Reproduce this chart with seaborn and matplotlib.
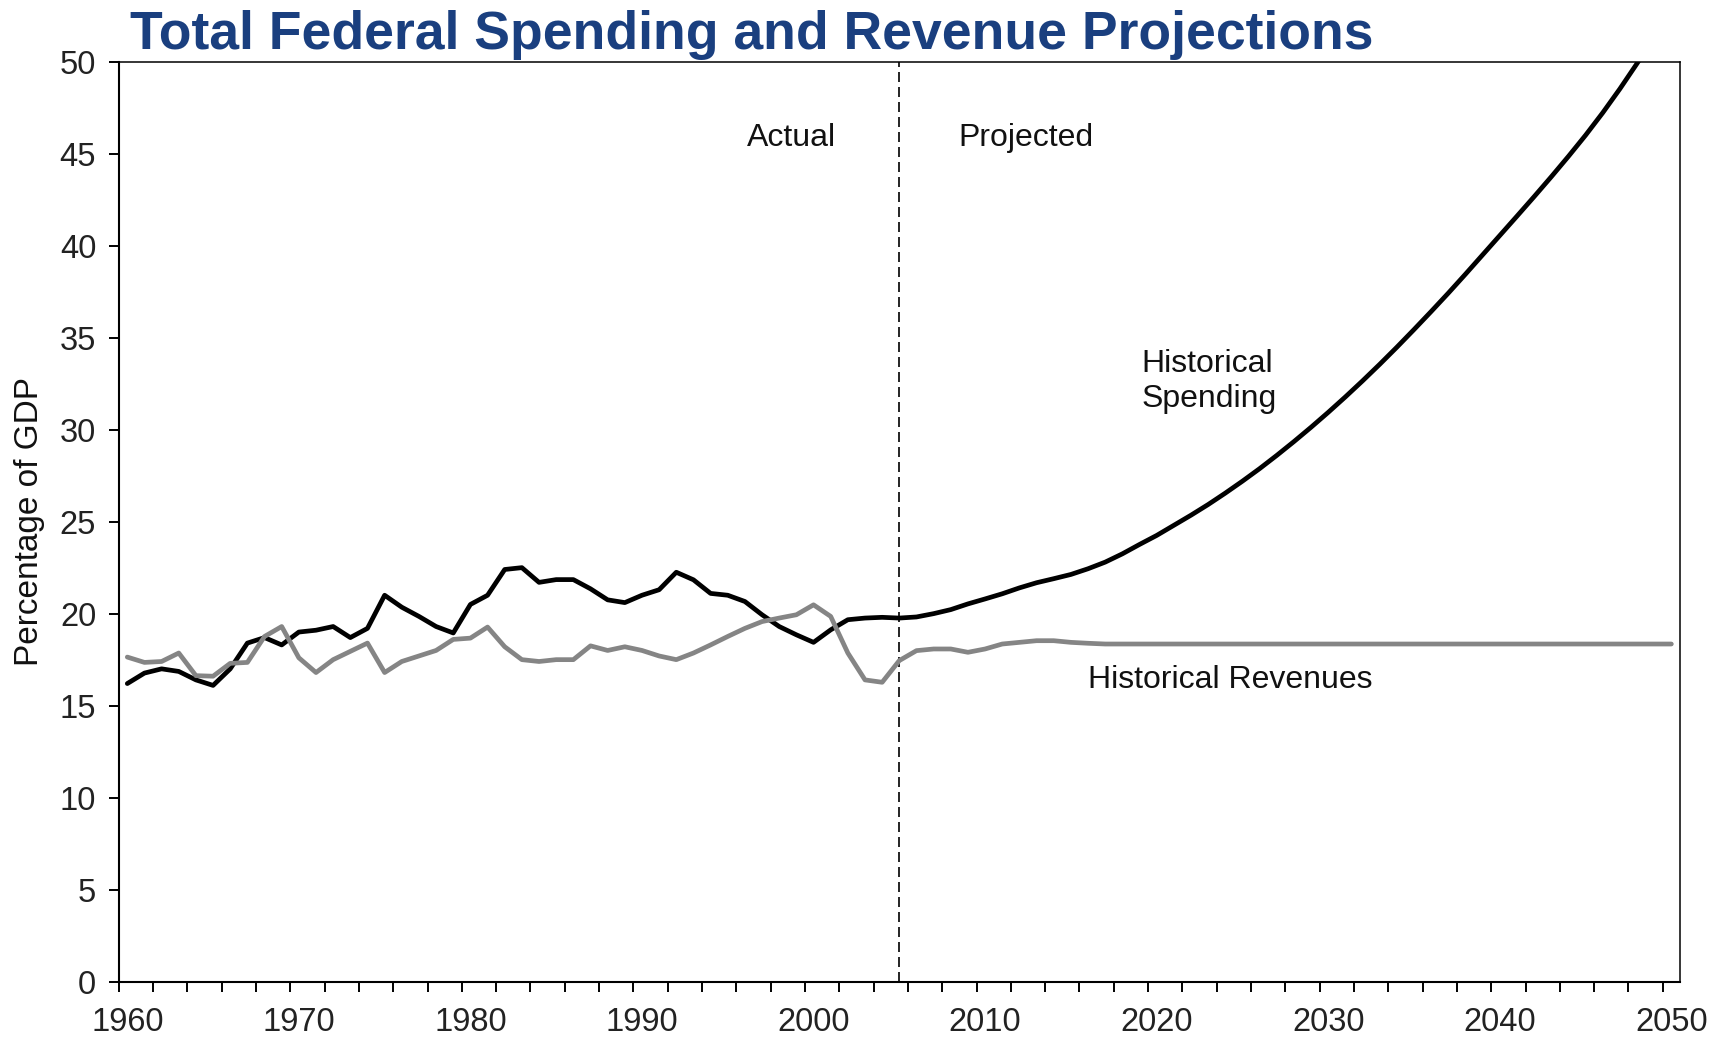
import numpy as np
import pandas as pd
import matplotlib
matplotlib.use("Agg")
import matplotlib.pyplot as plt
from matplotlib import font_manager
import seaborn as sns

# Federal outlays and receipts as a share of GDP, 1960-2050
years = list(range(1960, 2051))

spending = [
    16.2, 16.77, 17.0, 16.86, 16.4, 16.1, 17.0, 18.4, 18.7, 18.3,        # 1960s
    19.0, 19.1, 19.3, 18.7, 19.2, 21.0, 20.35, 19.85, 19.3, 18.95,       # 1970s
    20.5, 21.0, 22.4, 22.5, 21.7, 21.85, 21.85, 21.35, 20.75, 20.6,      # 1980s
    21.0, 21.3, 22.25, 21.84, 21.1, 21.0, 20.66, 19.94, 19.3, 18.85,     # 1990s
    18.44, 19.12, 19.67, 19.76, 19.8, 19.76, 19.82, 20.0, 20.22, 20.53,  # 2000s
    20.8, 21.08, 21.4, 21.68, 21.9, 22.13, 22.44, 22.8, 23.25, 23.76,    # 2010s
    24.25, 24.8, 25.35, 25.93, 26.55, 27.2, 27.88, 28.6, 29.35, 30.13,   # 2020s
    30.94, 31.78, 32.65, 33.55, 34.48, 35.44, 36.42, 37.42, 38.45, 39.5, # 2030s
    40.55, 41.6, 42.66, 43.74, 44.85, 46.0, 47.22, 48.52, 49.9, 51.35,   # 2040s
    52.85,                                                               # 2050
]

revenues = [
    17.64, 17.35, 17.4, 17.86, 16.63, 16.6, 17.3, 17.35, 18.76, 19.3,    # 1960s
    17.6, 16.8, 17.5, 17.95, 18.4, 16.8, 17.4, 17.7, 18.0, 18.6,         # 1970s
    18.67, 19.27, 18.2, 17.5, 17.4, 17.5, 17.5, 18.25, 18.0, 18.2,       # 1980s
    18.0, 17.7, 17.5, 17.86, 18.3, 18.76, 19.2, 19.57, 19.76, 19.94,     # 1990s
    20.48, 19.85, 17.86, 16.4, 16.27, 17.45, 17.99, 18.08, 18.08, 17.9,  # 2000s
    18.08, 18.35, 18.44, 18.53, 18.53, 18.44, 18.39, 18.35, 18.35, 18.35,  # 2010s
    18.35, 18.35, 18.35, 18.35, 18.35, 18.35, 18.35, 18.35, 18.35, 18.35,  # 2020s
    18.35, 18.35, 18.35, 18.35, 18.35, 18.35, 18.35, 18.35, 18.35, 18.35,  # 2030s
    18.35, 18.35, 18.35, 18.35, 18.35, 18.35, 18.35, 18.35, 18.35, 18.35,  # 2040s
    18.35,                                                               # 2050
]

projection_start = 2005
decade_labels = list(range(1960, 2051, 10))
y_ticks = list(range(0, 51, 5))

title_text = "Total Federal Spending and Revenue Projections"
y_label = "Percentage of GDP"

df = pd.DataFrame({"Year": years, "Spending": spending, "Revenues": revenues})

sns.set_theme(style="white")
plt.rcParams["font.family"] = ["Liberation Sans", "DejaVu Sans"]

# condensed face for the axis numbers, if present
installed = {f.name for f in font_manager.fontManager.ttflist}
if "Liberation Sans Narrow" in installed:
    tick_family = ["Liberation Sans Narrow", "Liberation Sans"]
    tick_size = 26
else:
    tick_family = ["Liberation Sans", "DejaVu Sans"]
    tick_size = 23.5

SPEND_COLOR = "#000000"
REV_COLOR = "#858585"
TEXT_COLOR = "#111111"
TICK_COLOR = "#222222"
TITLE_COLOR = "#1a3f7f"

fig = plt.figure(figsize=(17.23, 10.41), dpi=100)
ax = fig.add_axes([0.0689, 0.0570, 0.9061, 0.8838])

sns.lineplot(data=df, x="Year", y="Spending", color=SPEND_COLOR,
             linewidth=3.4, ax=ax)
sns.lineplot(data=df, x="Year", y="Revenues", color=REV_COLOR,
             linewidth=3.4, ax=ax)

# boundary between actual and projected years
ax.axvline(projection_start, color="black", linewidth=1.2,
           linestyle=(0, (6, 3)), zorder=1)

ax.set_xlim(1959.5, 2050.5)
ax.set_ylim(0, 50)

# category-style axis: labels at decade centres, tick marks on every other boundary
ax.set_xticks(decade_labels)
ax.set_xticklabels([str(y) for y in decade_labels])
ax.set_xticks(np.arange(1959.5, 2050.5, 2), minor=True)
ax.set_yticks(y_ticks)
ax.set_yticklabels([str(v) for v in y_ticks])

ax.tick_params(axis="x", which="major", length=0, pad=18,
               labelsize=tick_size, labelcolor=TICK_COLOR)
ax.tick_params(axis="x", which="minor", direction="out", length=7.2,
               width=1.4, color="black", bottom=True)
ax.tick_params(axis="y", which="major", direction="out", length=7.2,
               width=1.4, color="black", left=True, pad=9,
               labelsize=tick_size, labelcolor=TICK_COLOR)
for lab in ax.get_xticklabels() + ax.get_yticklabels():
    lab.set_fontfamily(tick_family)

for side in ("left", "bottom"):
    ax.spines[side].set_linewidth(1.5)
    ax.spines[side].set_color("black")
for side in ("top", "right"):
    ax.spines[side].set_linewidth(1.1)
    ax.spines[side].set_color("black")
    ax.spines[side].set_visible(True)

ax.set_xlabel("")
ax.set_ylabel(y_label, fontsize=24, color=TEXT_COLOR)
ax.yaxis.set_label_coords(-0.047, 0.5)

ax.text(1998.7, 45.85, "Actual", fontsize=23, color=TEXT_COLOR,
        ha="center", va="center")
ax.text(2012.4, 45.85, "Projected", fontsize=23, color=TEXT_COLOR,
        ha="center", va="center")
ax.text(2019.1, 32.6, "Historical\nSpending", fontsize=23, color=TEXT_COLOR,
        ha="left", va="center", linespacing=1.2)
ax.text(2024.3, 16.4, "Historical Revenues", fontsize=23, color=TEXT_COLOR,
        ha="center", va="center")

fig.text(130 / 1723, 1 - 49 / 1041, title_text, fontsize=38.5,
         fontweight="bold", color=TITLE_COLOR, ha="left", va="baseline")

fig.savefig("out.png", dpi=100, facecolor="white")
